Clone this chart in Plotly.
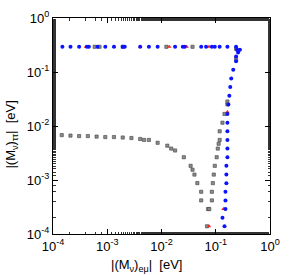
import plotly.graph_objects as go

# blue series
blue_x = [1.04e-4, 1.49e-4, 2.10e-4, 3.03e-4, 4.22e-4, 4.58e-4, 6.63e-4, 9.2e-4, 1.33e-3, 1.93e-3,
          2.10e-3, 4.05e-3, 5.86e-3, 8.48e-3, 1.78e-2, 2.47e-2, 2.68e-2, 5.39e-2, 6.63e-2, 8.48e-2,
          9.6e-2, 0.118, 0.164, 0.237,
          0.247, 0.279, 0.258, 0.237, 0.237, 0.210, 0.193, 0.185, 0.178, 0.171, 0.164, 0.164, 0.164,
          0.164, 0.164, 0.164, 0.157, 0.157, 0.157, 0.151, 0.151, 0.151, 0.133, 0.145]
blue_y = [0.293] * 24 + [0.259, 0.259, 0.229, 0.194, 0.158, 0.110, 0.0759, 0.0525, 0.0363, 0.0251,
                         0.0167, 0.0115, 0.00798, 0.00552, 0.00382, 0.00264, 0.00183, 0.00127,
                         0.000875, 0.000605, 0.000419, 0.00029, 0.0002, 0.000139]

# gray series
gray_x = [5.86e-4, 7.2e-4, 1.93e-3, 1.23e-2, 3.73e-2,
          1.04e-4, 1.45e-4, 2.10e-4, 3.03e-4, 4.39e-4, 6.36e-4, 9.2e-4, 1.33e-3, 1.93e-3, 2.79e-3,
          4.05e-3, 4.77e-3, 5.86e-3, 8.48e-3, 1.28e-2, 1.51e-2, 1.78e-2, 2.58e-2, 3.44e-2, 3.73e-2,
          4.05e-2, 4.58e-2, 5.39e-2, 5.39e-2, 7.2e-2, 6.9e-2,
          7.6e-2, 8.48e-2, 8.48e-2, 8.84e-2, 9.2e-2, 9.6e-2, 0.104, 0.109, 0.113, 0.118, 0.118,
          0.133, 0.145, 0.164, 0.164, 0.237, 0.237]
gray_y = [0.293] * 5 + [6.78e-3, 6.78e-3, 6.64e-3, 6.51e-3, 6.51e-3, 6.37e-3, 6.24e-3, 6.24e-3,
                        6.12e-3, 5.99e-3, 5.75e-3, 5.52e-3, 5.52e-3, 4.89e-3, 4.32e-3, 3.82e-3,
                        3.52e-3, 2.64e-3, 1.83e-3, 1.55e-3, 1.26e-3, 8.75e-4, 6.05e-4, 4.19e-4,
                        2.9e-4, 1.39e-4,
                        2.9e-4, 4.19e-4, 6.05e-4, 8.75e-4, 1.26e-3, 1.83e-3, 2.64e-3, 3.82e-3,
                        4.69e-3, 5.52e-3, 7.98e-3, 1.15e-2, 1.67e-2, 2.51e-2, 2.84e-2, 0.172, 0.27]

# red series
red_x = [4.05e-4, 1.33e-3, 4.05e-3, 1.39e-2, 2.91e-2, 7.5e-2, 0.258, 0.164, 0.139, 7.5e-2]
red_y = [0.293, 0.293, 0.293, 0.293, 0.293, 0.293, 0.249, 1.81e-2, 2.9e-4, 1.39e-4]

x_tickvals = [1e-4, 1e-3, 1e-2, 1e-1, 1]
x_ticktext = ["10<sup>-4</sup>", "10<sup>-3</sup>", "10<sup>-2</sup>", "10<sup>-1</sup>", "10<sup>0</sup>"]
y_tickvals = [1e-4, 1e-3, 1e-2, 1e-1, 1]
y_ticktext = ["10<sup>-4</sup>", "10<sup>-3</sup>", "10<sup>-2</sup>", "10<sup>-1</sup>", "10<sup>0</sup>"]

x_title = "|(M<sub>ν</sub>)<sub>eμ</sub>|  [eV]"
y_title = "|(M<sub>ν</sub>)<sub>ττ</sub>|  [eV]"

FONT = "Liberation Sans, Arial"

fig = go.Figure()
fig.add_trace(go.Scatter(x=gray_x, y=gray_y, mode="markers",
                         marker=dict(symbol="square", size=3.2, color="#8c8c8c",
                                     line=dict(color="#404040", width=0.6))))
fig.add_trace(go.Scatter(x=red_x, y=red_y, mode="markers",
                         marker=dict(symbol="triangle-up", size=4, color="#ff2020",
                                     line=dict(width=0))))
fig.add_trace(go.Scatter(x=blue_x, y=blue_y, mode="markers",
                         marker=dict(symbol="circle", size=4, color="#0a14ff",
                                     line=dict(width=0))))

axis_common = dict(type="log", showgrid=False, zeroline=False, showline=True, linecolor="black",
                   linewidth=1, mirror="ticks", ticks="inside", ticklen=5, tickcolor="black",
                   minor=dict(ticks="inside", ticklen=2.5, tickwidth=0.6, tickcolor="#333333",
                              showgrid=False),
                   tickfont=dict(family=FONT, size=13, color="black"))

fig.update_xaxes(range=[-4, 0], tickvals=x_tickvals, ticktext=x_ticktext, **axis_common)
fig.update_yaxes(range=[-4, 0], tickvals=y_tickvals, ticktext=y_ticktext, **axis_common)

fig.add_annotation(text=x_title, xref="paper", yref="paper", x=0.433, y=-0.147,
                   xanchor="center", yanchor="middle", showarrow=False,
                   font=dict(family=FONT, size=13, color="black"))
fig.add_annotation(text=y_title, xref="paper", yref="paper", x=-0.192, y=0.462,
                   xanchor="center", yanchor="middle", textangle=-90, showarrow=False,
                   font=dict(family=FONT, size=13, color="black"))

fig.update_layout(width=289, height=275, showlegend=False,
                  margin=dict(l=53, r=12, t=9, b=41),
                  plot_bgcolor="white", paper_bgcolor="white")

fig.write_html("out.html", config={"displayModeBar": False},
               post_script="document.body.style.margin='0';")
